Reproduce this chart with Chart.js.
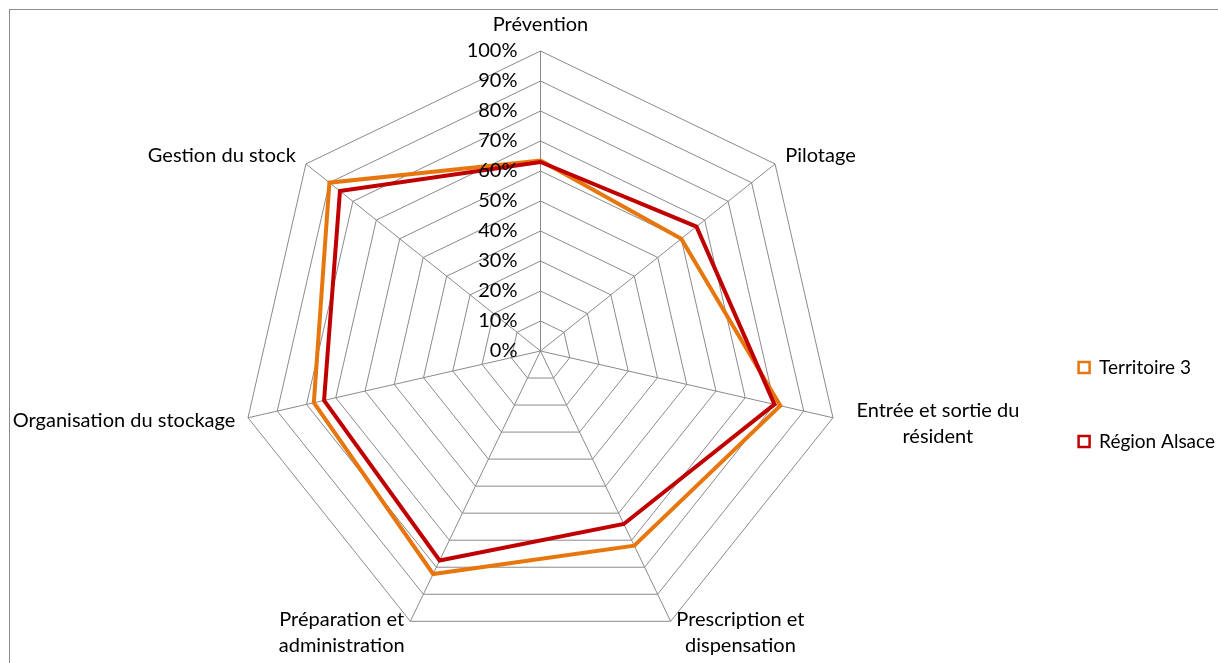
<!DOCTYPE html>
<html>
<head>
<meta charset="utf-8">
<script src="https://cdn.jsdelivr.net/npm/chart.js@4.4.1/dist/chart.umd.min.js"></script>
<style>
    body { margin: 0; background: #fff; }
    #wrap { position: relative; width: 1218px; height: 663px; overflow: hidden; }
    #frame { position: absolute; left: 9px; top: 9px; width: 1300px; height: 700px; border: 1px solid #8c8c8c; }
    canvas { position: absolute; left: 0; top: 0; }
</style>
</head>
<body>
<div id="wrap">
    <div id="frame"></div>
    <canvas id="radarChart" width="1218" height="663"></canvas>
</div>
<script>
// Axis names (wrapped like in the original sheet)
const categories = [
    ["Prévention"],
    ["Pilotage"],
    ["Entrée et sortie du", "résident"],
    ["Prescription et", "dispensation"],
    ["Préparation et", "administration"],
    ["Organisation du stockage"],
    ["Gestion du stock"]
];
// Scores in %
const territoire3 = [63.5, 60, 82, 72, 82.5, 77.5, 90];
const regionAlsace = [63, 66.5, 80, 64, 77.5, 74, 85.5];
const tickValues = [0, 10, 20, 30, 40, 50, 60, 70, 80, 90, 100];

const FONT = "20px Lato";
const GRID = "#8a8a8a";
// extra space Excel leaves between the web and some wrapped labels
const labelExtra = [0, 0, 11, 0, 0, 0, 0];

// Draws the % ticks on the left of the top axis and the axis names
const axisText = {
    id: "axisText",
    afterDraw(chart) {
        const scale = chart.scales.r;
        const ctx = chart.ctx;
        ctx.save();
        ctx.font = FONT;
        ctx.fillStyle = "#000";
        ctx.textBaseline = "middle";

        ctx.textAlign = "right";
        tickValues.forEach((v) => {
            const d = scale.getDistanceFromCenterForValue(v);
            ctx.fillText(v + "%", scale.xCenter - 23, scale.yCenter - d);
        });

        ctx.textAlign = "center";
        chart.data.labels.forEach((lines, i) => {
            const pos = scale.getPointPosition(i, scale.drawingArea + 13 + labelExtra[i]);
            const blockW = Math.max(...lines.map((t) => ctx.measureText(t).width));
            const dx = pos.x - scale.xCenter;
            let cx = pos.x;
            if (dx > 1) cx = pos.x + blockW / 2;
            else if (dx < -1) cx = pos.x - blockW / 2;
            let cy = pos.y;
            if (Math.abs(dx) <= 1 && pos.y < scale.yCenter) cy = pos.y - 13;
            const lh = 26;
            const top = cy - ((lines.length - 1) * lh) / 2;
            lines.forEach((t, k) => ctx.fillText(t, cx, top + k * lh));
        });
        ctx.restore();
    },
};

const ctx = document.getElementById("radarChart").getContext("2d");

new Chart(ctx, {
    type: "radar",
    data: {
        labels: categories,
        datasets: [
            {
                label: "Territoire 3",
                data: territoire3,
                borderColor: "#E8760E",
                backgroundColor: "rgba(0,0,0,0)",
                borderWidth: 4,
                pointRadius: 0,
                fill: false,
                clip: false,
                order: 1,
            },
            {
                label: "Région Alsace",
                data: regionAlsace,
                borderColor: "#C00000",
                backgroundColor: "rgba(0,0,0,0)",
                borderWidth: 4,
                pointRadius: 0,
                fill: false,
                clip: false,
                order: 0,
            },
        ],
    },
    options: {
        responsive: false,
        animation: false,
        layout: { padding: { top: 146, right: -7, bottom: 0, left: 0 } },
        elements: { line: { tension: 0, borderJoinStyle: "miter" } },
        scales: {
            r: {
                min: 0,
                max: 100,
                ticks: { stepSize: 10, display: false },
                grid: { color: GRID, lineWidth: 1 },
                angleLines: { color: GRID, lineWidth: 1 },
                pointLabels: { display: false },
                // pin the web to the same spot as the original
                afterFit: (scale) => {
                    scale.xCenter = 540.5;
                    scale.yCenter = 351;
                    scale.drawingArea = 300;
                },
            },
        },
        plugins: {
            tooltip: { enabled: false },
            legend: {
                position: "right",
                align: "center",
                reverse: true,
                labels: {
                    boxWidth: 11,
                    boxHeight: 11,
                    padding: 55,
                    color: "#000",
                    font: { family: "Lato", size: 19 },
                    generateLabels: (chart) =>
                        Chart.defaults.plugins.legend.labels.generateLabels(chart).map((item) => {
                            item.lineWidth = 2.5;
                            item.fillStyle = "#fff";
                            return item;
                        }),
                },
            },
        },
    },
    plugins: [axisText],
});
</script>
</body>
</html>
